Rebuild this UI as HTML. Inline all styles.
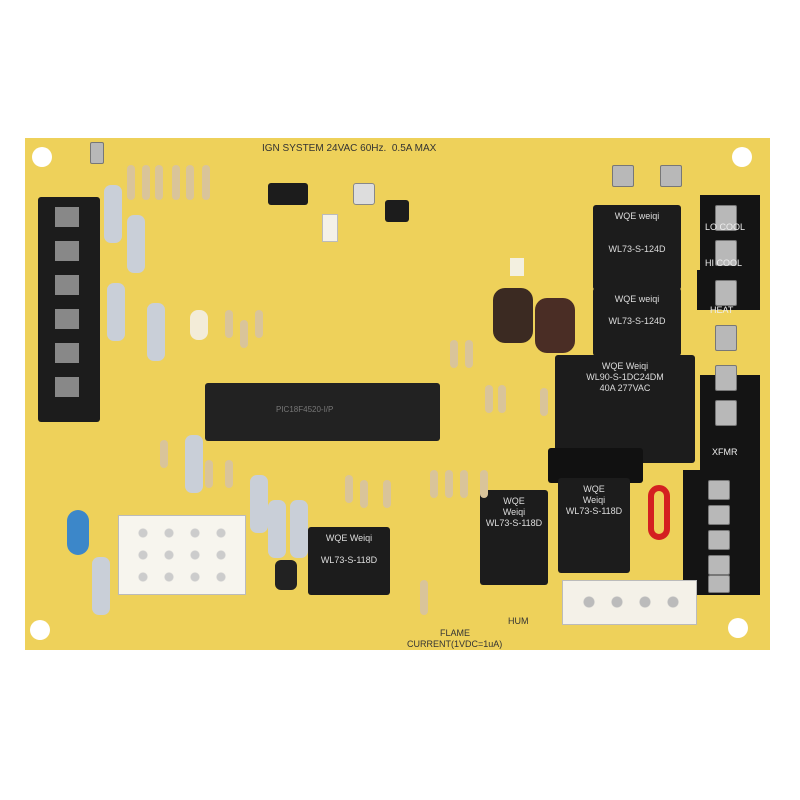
<!DOCTYPE html>
<html><head><style>
body{margin:0;width:800px;height:800px;background:#fff;position:relative;overflow:hidden;font-family:"Liberation Sans",sans-serif}
div{position:absolute;box-sizing:border-box}
.b{background:#1c1c1c;border-radius:3px}
.r{color:#ddd;font-size:9px;text-align:center;line-height:11px;padding-top:6px}
.res{background:#d9c49a;border-radius:4px;width:8px;height:28px}
.wres{background:#c9cfd8;border-radius:7px;width:18px;height:58px}
.w{background:#f4f1e8;border:1px solid #bbb}
.t{font-size:9px;color:#333;white-space:nowrap}
.hole{background:#fff;border-radius:50%;width:20px;height:20px}
.conn{background:#141414}
.tab{background:#b8b8b8;border:1px solid #777;border-radius:2px}
</style></head><body>
<div style="left:25px;top:138px;width:745px;height:512px;background:#eed15a"></div>
<div class="hole" style="left:32px;top:147px"></div>
<div class="hole" style="left:732px;top:147px"></div>
<div class="hole" style="left:30px;top:620px"></div>
<div class="hole" style="left:728px;top:618px"></div>
<div class="t" style="left:262px;top:143px;font-size:10px">IGN SYSTEM 24VAC 60Hz.&nbsp;&nbsp;0.5A MAX</div>
<!-- left terminal block -->
<div class="b" style="left:38px;top:197px;width:62px;height:225px"></div>
<div style="left:55px;top:207px;width:24px;height:200px;background:repeating-linear-gradient(#888 0 20px,#1c1c1c 20px 34px)"></div>
<!-- top resistors -->
<div class="res" style="left:127px;top:165px;height:35px"></div>
<div class="res" style="left:142px;top:165px;height:35px"></div>
<div class="res" style="left:155px;top:165px;height:35px"></div>
<div class="res" style="left:172px;top:165px;height:35px"></div>
<div class="res" style="left:186px;top:165px;height:35px"></div>
<div class="res" style="left:202px;top:165px;height:35px"></div>
<div class="wres" style="left:104px;top:185px"></div>
<div class="wres" style="left:127px;top:215px"></div>
<div class="wres" style="left:107px;top:283px"></div>
<div class="wres" style="left:147px;top:303px"></div>
<div class="wres" style="left:185px;top:435px"></div>
<div class="wres" style="left:250px;top:475px"></div>
<div class="wres" style="left:268px;top:500px"></div>
<div class="wres" style="left:290px;top:500px"></div>
<div class="wres" style="left:92px;top:557px"></div>
<!-- jumpers -->
<div class="b" style="left:268px;top:183px;width:40px;height:22px"></div>
<div class="b" style="left:353px;top:183px;width:22px;height:22px;background:#ddd;border:1px solid #888"></div>
<div class="b" style="left:385px;top:200px;width:24px;height:22px"></div>
<div class="w" style="left:322px;top:214px;width:16px;height:28px"></div>
<!-- IC -->
<div class="b" style="left:205px;top:383px;width:235px;height:58px;background:#222"></div>
<div class="t" style="left:276px;top:405px;color:#777;font-size:8px">PIC18F4520-I/P</div>
<!-- capacitors -->
<div style="left:493px;top:288px;width:40px;height:55px;background:#3b2a22;border-radius:12px"></div>
<div style="left:535px;top:298px;width:40px;height:55px;background:#4a2d25;border-radius:12px"></div>
<div style="left:275px;top:560px;width:22px;height:30px;background:#222;border-radius:6px"></div>
<!-- relays -->
<div class="b r" style="left:593px;top:205px;width:88px;height:85px">WQE weiqi<br><br><br>WL73-S-124D</div>
<div class="b r" style="left:593px;top:288px;width:88px;height:68px">WQE weiqi<br><br>WL73-S-124D</div>
<div class="b r" style="left:555px;top:355px;width:140px;height:108px;transform:none">WQE Weiqi<br>WL90-S-1DC24DM<br>40A 277VAC</div>
<div class="b" style="left:548px;top:448px;width:95px;height:35px;background:#111"></div>
<div class="b r" style="left:480px;top:490px;width:68px;height:95px">WQE<br>Weiqi<br>WL73-S-118D</div>
<div class="b r" style="left:558px;top:478px;width:72px;height:95px">WQE<br>Weiqi<br>WL73-S-118D</div>
<div class="b r" style="left:308px;top:527px;width:82px;height:68px">WQE Weiqi<br><br>WL73-S-118D</div>
<div style="left:648px;top:485px;width:22px;height:55px;border:6px solid #d42020;border-radius:11px"></div>
<!-- right terminals -->
<div class="conn" style="left:700px;top:195px;width:60px;height:85px"></div>
<div class="conn" style="left:697px;top:270px;width:63px;height:40px"></div>
<div class="conn" style="left:700px;top:375px;width:60px;height:95px"></div>
<div class="conn" style="left:683px;top:470px;width:77px;height:125px"></div>
<div class="tab" style="left:715px;top:205px;width:22px;height:26px"></div>
<div class="tab" style="left:715px;top:240px;width:22px;height:26px"></div>
<div class="tab" style="left:715px;top:280px;width:22px;height:26px"></div>
<div class="tab" style="left:715px;top:325px;width:22px;height:26px"></div>
<div class="tab" style="left:715px;top:365px;width:22px;height:26px"></div>
<div class="tab" style="left:715px;top:400px;width:22px;height:26px"></div>
<div class="tab" style="left:708px;top:480px;width:22px;height:20px"></div>
<div class="tab" style="left:708px;top:505px;width:22px;height:20px"></div>
<div class="tab" style="left:708px;top:530px;width:22px;height:20px"></div>
<div class="tab" style="left:708px;top:555px;width:22px;height:20px"></div>
<div class="tab" style="left:708px;top:575px;width:22px;height:18px"></div>
<div class="t" style="left:705px;top:222px;color:#eee">LO COOL</div>
<div class="t" style="left:705px;top:258px;color:#eee">HI COOL</div>
<div class="t" style="left:710px;top:305px;color:#eee">HEAT</div>
<div class="t" style="left:712px;top:447px;color:#eee">XFMR</div>
<div class="tab" style="left:612px;top:165px;width:22px;height:22px"></div>
<div class="tab" style="left:660px;top:165px;width:22px;height:22px"></div>
<div class="tab" style="left:90px;top:142px;width:14px;height:22px"></div>
<!-- white connectors -->
<div class="w" style="left:118px;top:515px;width:128px;height:80px;background:#f7f5ee"></div>
<div style="left:130px;top:522px;width:105px;height:66px;background:radial-gradient(circle,#ccc 4px,transparent 5px) 0 0/26px 22px"></div>
<div class="w" style="left:562px;top:580px;width:135px;height:45px"></div>
<div style="left:575px;top:588px;width:110px;height:28px;background:radial-gradient(circle,#bbb 5px,transparent 6px) 0 0/28px 28px"></div>
<div style="left:67px;top:510px;width:22px;height:45px;background:#3c87c9;border-radius:11px"></div>
<div style="left:190px;top:310px;width:18px;height:30px;background:#f3ecd8;border-radius:8px"></div>
<div style="left:510px;top:258px;width:14px;height:18px;background:#f3f0e0"></div>
<!-- small resistors -->
<div class="res" style="left:225px;top:310px"></div><div class="res" style="left:240px;top:320px"></div><div class="res" style="left:255px;top:310px"></div>
<div class="res" style="left:450px;top:340px"></div><div class="res" style="left:465px;top:340px"></div>
<div class="res" style="left:485px;top:385px"></div><div class="res" style="left:498px;top:385px"></div>
<div class="res" style="left:540px;top:388px"></div>
<div class="res" style="left:345px;top:475px"></div><div class="res" style="left:360px;top:480px"></div><div class="res" style="left:383px;top:480px"></div>
<div class="res" style="left:420px;top:580px;height:35px"></div>
<div class="res" style="left:430px;top:470px"></div><div class="res" style="left:445px;top:470px"></div><div class="res" style="left:460px;top:470px"></div><div class="res" style="left:480px;top:470px"></div>
<div class="res" style="left:160px;top:440px"></div><div class="res" style="left:205px;top:460px"></div><div class="res" style="left:225px;top:460px"></div>
<div class="t" style="left:440px;top:628px">FLAME</div>
<div class="t" style="left:407px;top:639px">CURRENT(1VDC=1uA)</div>
<div class="t" style="left:508px;top:616px">HUM</div>
</body></html>
